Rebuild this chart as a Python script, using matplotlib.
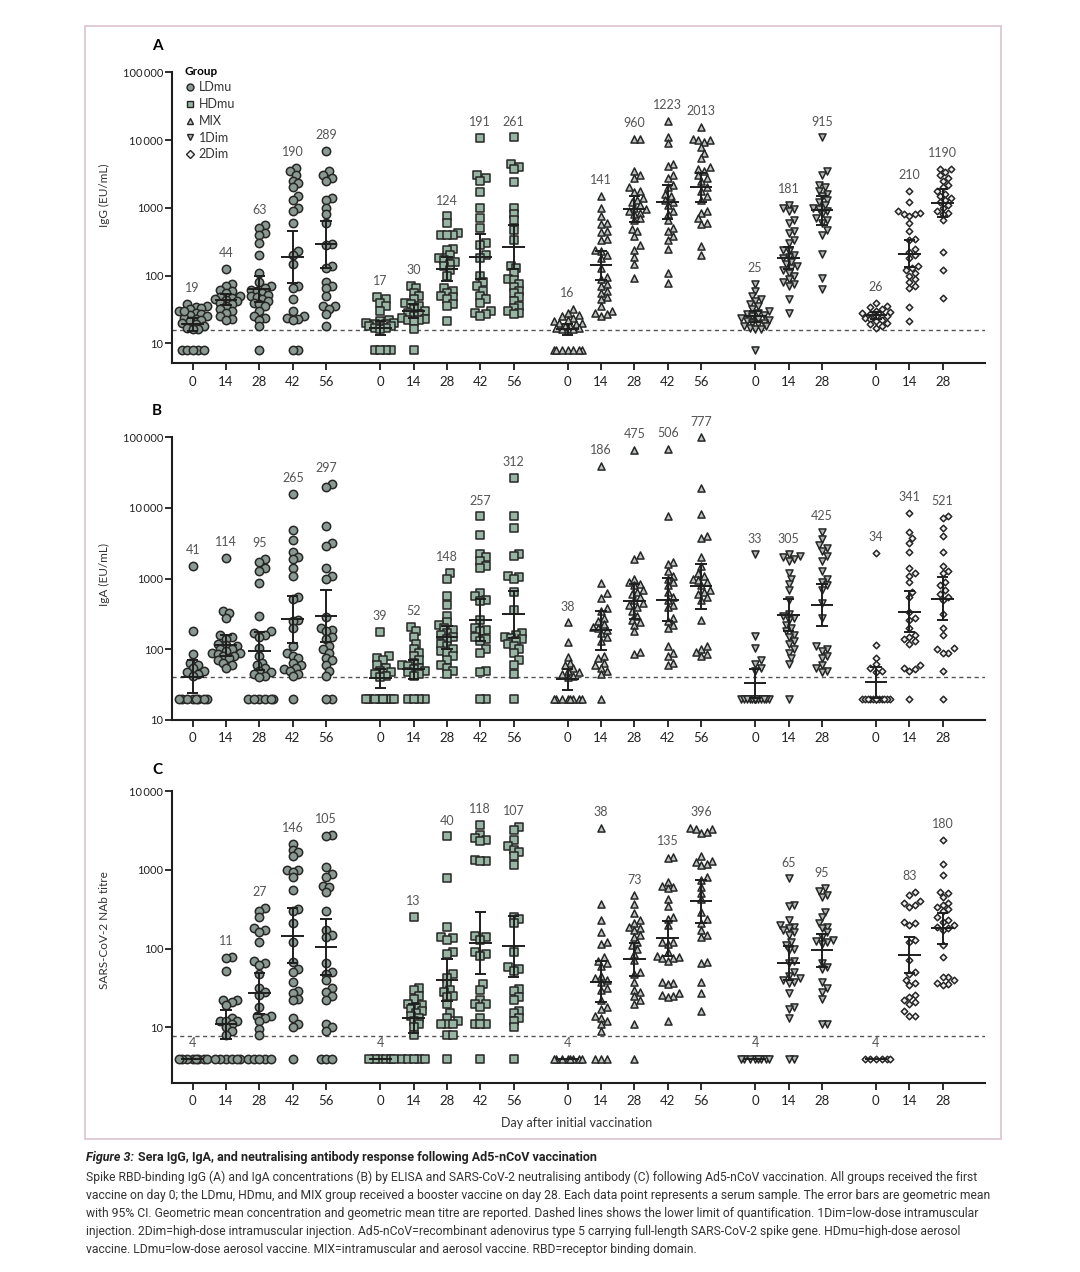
import numpy as np
import matplotlib
matplotlib.use("Agg")
import matplotlib.pyplot as plt
from matplotlib.lines import Line2D
from matplotlib.patches import Rectangle

plt.rcParams['font.family'] = ['Lato', 'DejaVu Sans']

# ---------------- data ----------------
groups = ['LDmu', 'HDmu', 'MIX', '1Dim', '2Dim']
days_long = ['0', '14', '28', '42', '56']
days_short = ['0', '14', '28']

# Panel A: IgG (EU/mL)
igg_ldmu = [
    [38, 35, 34, 33, 32, 30, 28, 27, 26, 25, 24, 23, 22, 21, 20, 19, 18, 17, 16, 16, 30, 8, 8, 8, 8, 8],
    [125, 75, 70, 62, 60, 55, 50, 48, 46, 45, 44, 42, 40, 38, 35, 32, 30, 28, 25, 23, 22],
    [550, 500, 420, 400, 300, 200, 110, 80, 70, 65, 62, 60, 55, 52, 50, 48, 45, 42, 40, 38, 35, 30, 25, 24, 22, 18, 8],
    [3900, 3500, 3000, 2500, 2300, 2000, 1500, 1300, 1000, 900, 600, 230, 200, 150, 70, 65, 45, 30, 25, 24, 23, 22, 8, 8],
    [7000, 3500, 3000, 2800, 2500, 1400, 1300, 1000, 800, 600, 290, 280, 140, 130, 80, 70, 65, 50, 36, 35, 32, 27, 18],
]
igg_hdmu = [
    [48, 45, 40, 35, 30, 22, 21, 20, 20, 19, 19, 18, 18, 18, 17, 17, 16, 8, 8, 8, 8],
    [70, 65, 55, 50, 45, 40, 38, 35, 32, 30, 28, 27, 25, 24, 23, 22, 22, 21, 16, 8],
    [750, 600, 420, 400, 400, 400, 250, 240, 200, 180, 170, 160, 150, 140, 120, 100, 65, 60, 55, 50, 48, 45, 38, 36, 21],
    [10700, 3000, 2800, 2500, 1700, 1000, 700, 500, 300, 280, 200, 180, 100, 80, 70, 60, 50, 45, 40, 30, 28, 27, 25],
    [11000, 4500, 4000, 3800, 2400, 980, 800, 650, 465, 330, 140, 130, 108, 90, 85, 75, 68, 60, 55, 48, 42, 36, 33, 30, 28, 27],
]
igg_mix = [
    [32, 28, 26, 25, 24, 22, 21, 20, 20, 19, 18, 18, 17, 17, 16, 16, 16, 8, 8, 8, 8, 8, 8, 8],
    [1500, 1000, 750, 600, 580, 450, 440, 350, 340, 240, 230, 200, 180, 130, 95, 90, 75, 70, 60, 55, 48, 45, 36, 30, 28, 27, 25],
    [10500, 10500, 3500, 3000, 2800, 2000, 1800, 1700, 1400, 1300, 1200, 1100, 1000, 950, 900, 850, 800, 700, 650, 480, 450, 380, 280, 240, 190, 150, 92],
    [19000, 11000, 9000, 4500, 4200, 3000, 2800, 2200, 2000, 1600, 1500, 1300, 1200, 1100, 900, 800, 650, 500, 450, 380, 330, 250, 110, 77],
    [15800, 10500, 10000, 10000, 9500, 8000, 6500, 5500, 4000, 3800, 3500, 3000, 2800, 2500, 2000, 1800, 1500, 1300, 900, 850, 700, 600, 580, 270, 200],
]
igg_1dim = [
    [75, 60, 50, 45, 42, 38, 35, 32, 30, 28, 27, 26, 25, 24, 23, 22, 21, 20, 20, 19, 18, 18, 17, 16, 16, 8],
    [1100, 1000, 950, 900, 650, 600, 450, 420, 330, 300, 240, 230, 200, 190, 180, 160, 150, 140, 130, 120, 110, 100, 90, 80, 75, 70, 45, 28],
    [11000, 3500, 3000, 2200, 2000, 1800, 1600, 1500, 1300, 1200, 1100, 1000, 950, 900, 800, 700, 650, 600, 470, 400, 210, 92, 63],
]
igg_2dim = [
    [40, 36, 34, 32, 30, 29, 28, 27, 26, 25, 25, 24, 23, 22, 21, 20, 19, 18, 17],
    [1800, 1200, 900, 850, 800, 800, 750, 600, 450, 350, 330, 250, 220, 200, 180, 140, 130, 120, 110, 100, 90, 80, 70, 65, 34, 21],
    [3800, 3700, 3400, 3000, 2800, 2500, 2200, 2000, 1800, 1600, 1500, 1400, 1300, 1200, 1100, 1000, 900, 850, 800, 650, 220, 120, 46],
]
igg_gm = [[19, 44, 63, 190, 289], [17, 30, 124, 191, 261], [16, 141, 960, 1223, 2013], [25, 181, 915], [26, 210, 1190]]

# Panel B: IgA (EU/mL)
iga_ldmu = [
    [1500, 180, 85, 65, 60, 55, 50, 48, 45, 42, 20, 20, 20, 20, 20, 20, 20, 20],
    [1950, 350, 330, 280, 160, 150, 140, 120, 115, 110, 100, 100, 95, 90, 90, 85, 80, 80, 75, 70, 65, 60, 55],
    [1900, 1700, 1400, 1300, 870, 300, 180, 170, 160, 150, 105, 80, 65, 60, 55, 50, 48, 45, 42, 40, 20, 20, 20, 20, 20, 20],
    [16000, 4900, 3500, 2400, 2000, 1900, 1400, 1100, 550, 520, 260, 250, 200, 110, 90, 80, 75, 65, 60, 55, 52, 50, 45, 42, 20],
    [22000, 20000, 5600, 3200, 2900, 1400, 1100, 1000, 290, 200, 190, 180, 150, 140, 110, 100, 90, 75, 70, 60, 50, 42, 20, 20],
]
iga_hdmu = [
    [175, 80, 75, 70, 60, 55, 50, 48, 45, 42, 40, 20, 20, 20, 20, 20, 20, 20, 20],
    [210, 180, 150, 120, 100, 90, 80, 70, 65, 60, 58, 55, 52, 50, 48, 45, 42, 20, 20, 20, 20],
    [1200, 1000, 560, 420, 300, 240, 220, 200, 190, 170, 160, 150, 140, 120, 110, 100, 95, 90, 80, 70, 60, 55, 50, 45],
    [7600, 4200, 2200, 2000, 1800, 1500, 1400, 620, 560, 500, 480, 260, 200, 190, 180, 150, 140, 130, 100, 90, 50, 48, 20, 20],
    [26500, 7600, 5200, 2200, 2100, 1100, 1050, 1000, 650, 360, 170, 160, 150, 145, 140, 130, 120, 110, 100, 90, 70, 60, 45, 20],
]
iga_mix = [
    [240, 125, 78, 65, 60, 55, 50, 48, 45, 42, 40, 20, 20, 20, 20, 20, 20, 20, 20],
    [39000, 870, 620, 540, 380, 350, 280, 250, 230, 210, 200, 190, 170, 150, 130, 80, 75, 65, 60, 55, 50, 45, 20],
    [66000, 2150, 1900, 1000, 900, 850, 800, 700, 650, 600, 550, 500, 450, 420, 400, 350, 300, 260, 240, 220, 180, 92, 85],
    [69000, 7600, 1700, 1600, 1300, 1100, 1000, 900, 800, 650, 550, 500, 420, 400, 280, 250, 220, 200, 110, 90, 80, 65, 60],
    [100000, 19000, 8300, 4000, 3800, 2000, 1500, 1200, 1100, 1000, 950, 900, 800, 700, 650, 600, 550, 500, 260, 110, 100, 92, 85, 80],
]
iga_1dim = [
    [2200, 155, 105, 70, 62, 55, 50, 20, 20, 20, 20, 20, 20, 20, 20, 20, 20, 20, 20, 20, 20, 20, 20],
    [2200, 2100, 2000, 1900, 1800, 1200, 1000, 850, 700, 500, 320, 300, 280, 260, 220, 200, 180, 160, 150, 130, 120, 100, 90, 75, 63, 20],
    [4600, 3600, 3000, 2700, 2500, 2100, 1800, 1300, 1000, 900, 800, 700, 450, 280, 110, 100, 95, 80, 75, 60, 55, 50, 48],
]
iga_2dim = [
    [2300, 115, 75, 62, 55, 50, 48, 20, 20, 20, 20, 20, 20, 20, 20, 20, 20, 20, 20, 20, 20],
    [8600, 4500, 3800, 3200, 2400, 1400, 1200, 1100, 900, 650, 550, 340, 280, 260, 200, 160, 150, 140, 130, 120, 60, 55, 52, 50, 20],
    [7600, 7200, 5200, 4000, 2400, 1500, 1300, 1200, 900, 800, 700, 600, 550, 500, 320, 200, 160, 105, 100, 90, 88, 50, 20],
]
iga_gm = [[41, 114, 95, 265, 297], [39, 52, 148, 257, 312], [38, 186, 475, 506, 777], [33, 305, 425], [34, 341, 521]]

# Panel C: SARS-CoV-2 neutralising antibody titre
nab_ldmu = [
    [4, 4, 4, 4, 4, 4, 4, 4],
    [78, 75, 52, 22, 22, 21, 19, 13, 12, 12, 12, 11, 10, 9, 8, 4, 4, 4, 4, 4, 4],
    [330, 300, 250, 180, 170, 160, 120, 70, 65, 62, 48, 32, 28, 26, 18, 14, 14, 13, 12, 9.5, 8, 4, 4, 4, 4, 4],
    [2150, 1800, 1700, 1500, 1000, 1000, 950, 800, 550, 320, 300, 210, 120, 67, 55, 50, 38, 29, 27, 23, 22, 13, 11, 10, 4],
    [2800, 2700, 1100, 880, 820, 620, 600, 520, 300, 170, 150, 140, 65, 50, 48, 40, 32, 28, 25, 22, 11, 10, 9, 4, 4, 4],
]
nab_hdmu = [
    [4, 4, 4, 4, 4, 4],
    [250, 32, 30, 25, 23, 20, 19, 18, 17, 16, 15, 14, 13, 12, 11, 10, 8, 4, 4, 4, 4, 4],
    [2650, 790, 190, 140, 135, 130, 90, 85, 48, 42, 35, 30, 28, 25, 24, 20, 15, 13, 12, 11, 11, 11, 8, 8, 4],
    [3700, 2800, 2500, 2400, 2300, 1350, 1300, 1300, 145, 140, 130, 90, 85, 80, 35, 30, 22, 20, 20, 18, 13, 11, 11, 11, 4],
    [3500, 3200, 2400, 2000, 1800, 1700, 1500, 1150, 250, 240, 210, 90, 58, 55, 52, 31, 29, 24, 22, 16, 15, 13, 12, 10, 4],
]
nab_mix = [
    [4, 4, 4, 4, 4, 4, 4, 4],
    [3400, 370, 233, 163, 120, 115, 78, 70, 65, 60, 45, 42, 40, 38, 32, 30, 22, 18, 17, 14, 13, 12, 11, 9, 4, 4, 4],
    [475, 370, 285, 230, 210, 190, 180, 170, 150, 140, 120, 110, 100, 86, 71, 50, 48, 38, 30, 28, 25, 22, 20, 11, 4],
    [1450, 1400, 700, 620, 600, 580, 430, 350, 250, 240, 200, 120, 120, 115, 90, 80, 78, 76, 75, 70, 38, 37, 35, 27, 26, 25, 24, 12],
    [3400, 3300, 3300, 3000, 2900, 1500, 1300, 1250, 1200, 1150, 800, 750, 600, 500, 420, 290, 240, 210, 170, 150, 140, 67, 65, 38, 27, 16],
]
nab_1dim = [
    [4, 4, 4, 4, 4, 4, 4, 4],
    [780, 360, 350, 230, 200, 190, 180, 170, 160, 150, 120, 110, 100, 95, 70, 65, 50, 45, 42, 40, 38, 36, 27, 18, 17, 13, 4, 4],
    [580, 530, 480, 450, 290, 250, 210, 190, 180, 160, 140, 130, 125, 120, 115, 65, 58, 55, 38, 32, 28, 23, 11, 11],
]
nab_2dim = [
    [4, 4, 4, 4, 4, 4],
    [520, 480, 400, 380, 360, 340, 220, 210, 200, 130, 120, 71, 50, 48, 40, 36, 34, 26, 24, 22, 21, 20, 16, 14, 14],
    [2400, 1200, 850, 520, 500, 450, 380, 360, 340, 320, 300, 250, 230, 220, 200, 190, 180, 170, 110, 78, 44, 43, 40, 36, 35, 34],
]
nab_gm = [[4, 11, 27, 146, 105], [4, 13, 40, 118, 107], [4, 38, 73, 135, 396], [4, 65, 95], [4, 83, 180]]

lloq = [15.6, 40.5, 7.7]

# ---------------- styling ----------------
group_start = [0, 5.62, 11.24, 16.86, 20.48]
styles = {
    'LDmu': dict(marker='o', s=36, fc='#8a9991'),
    'HDmu': dict(marker='s', s=30, fc='#98b4a3'),
    'MIX':  dict(marker='^', s=26, fc='#bcc4be'),
    '1Dim': dict(marker='v', s=26, fc='#b0b9b3'),
    '2Dim': dict(marker='D', s=11, fc='#eef1ef'),
}
EDGE = '#262626'


def swarm_x(ax, xc, vals, d=5.6, maxw=15.0):
    vals = np.asarray(vals, float)
    pix = ax.transData.transform(np.column_stack([np.full(len(vals), xc), vals]))
    x0 = pix[0, 0]
    ys = pix[:, 1]
    cands = [0.0]
    k = 1
    while k * d / 2 <= maxw:
        cands += [k * d / 2, -k * d / 2]
        k += 1
    offs = np.zeros(len(vals))
    px, py = [], []
    for i in np.argsort(ys):
        best, score = 0.0, -1.0
        for c in cands:
            dist = np.min(np.hypot(np.array(px) - c, np.array(py) - ys[i])) if px else np.inf
            if dist >= d:
                best = c
                break
            if dist > score:
                score, best = dist, c
        offs[i] = best
        px.append(best)
        py.append(ys[i])
    return ax.transData.inverted().transform(np.column_stack([x0 + offs, ys]))[:, 0]


def ytick_fmt(v):
    s = '{:d}'.format(int(v))
    if v >= 10000:
        s = s[:-3] + '\u2009' + s[-3:]
    return s


fig = plt.figure(figsize=(10.8, 12.72), dpi=100)
H = 1272.0
W = 1080.0


def make_axes(top_px, bot_px, ylim, yticks):
    ax = fig.add_axes([171.7 / W, 1 - bot_px / H, (985 - 171.7) / W, (bot_px - top_px) / H])
    ax.set_yscale('log')
    ax.set_ylim(*ylim)
    ax.set_xlim(-0.63, 23.75)
    ax.set_yticks(yticks)
    ax.set_yticklabels([ytick_fmt(v) for v in yticks], fontsize=8, color='#222')
    ax.yaxis.set_minor_locator(matplotlib.ticker.NullLocator())
    for sp in ['top', 'right']:
        ax.spines[sp].set_visible(False)
    for sp in ['left', 'bottom']:
        ax.spines[sp].set_linewidth(1.5)
        ax.spines[sp].set_color('#1e1e1e')
    ax.tick_params(axis='both', direction='out', length=5, width=1.3, color='#1e1e1e')
    ax.tick_params(axis='y', pad=1)
    ax.tick_params(axis='x', labelsize=9.5, labelcolor='#222', pad=4)
    xt, xl = [], []
    for g, st in enumerate(group_start):
        dl = days_long if g < 3 else days_short
        for j, lab in enumerate(dl):
            xt.append(st + j)
            xl.append(lab)
    ax.set_xticks(xt)
    ax.set_xticklabels(xl)
    return ax


def draw_panel(ax, data, gms, lloq_val):
    ax.axhline(lloq_val, color='#555555', lw=1.0, ls=(0, (3, 2.5)), zorder=1)
    for g, name in enumerate(groups):
        st = styles[name]
        for j, vals in enumerate(data[g]):
            xc = group_start[g] + j
            xs = swarm_x(ax, xc, vals)
            ax.scatter(xs, vals, marker=st['marker'], s=st['s'], facecolor=st['fc'],
                       edgecolor=EDGE, linewidth=1.1, zorder=3, clip_on=False)
            gm = gms[g][j]
            lv = np.log10(np.asarray(vals, float))
            se = lv.std(ddof=1) / np.sqrt(len(lv))
            lo, hi = gm / 10 ** (2.06 * se), gm * 10 ** (2.06 * se)
            ax.hlines(gm, xc - 0.34, xc + 0.34, color='#1e1e1e', lw=1.4, zorder=4)
            if hi / lo > 1.01:
                ax.vlines(xc, lo, hi, color='#1e1e1e', lw=1.4, zorder=4)
                ax.hlines([lo, hi], xc - 0.17, xc + 0.17, color='#1e1e1e', lw=1.4, zorder=4)
            ax.annotate(str(gm), (xc, max(vals)), xytext=(0, 7), textcoords='offset points',
                        ha='center', va='bottom', fontsize=9, color='#555555', zorder=5)


axA = make_axes(72.3, 363.3, (5.07, 1e5), [10, 100, 1000, 10000, 100000])
axB = make_axes(437.3, 720.0, (10, 1e5), [10, 100, 1000, 10000, 100000])
axC = make_axes(791.0, 1082.7, (1.98, 1e4), [10, 100, 1000, 10000])

draw_panel(axA, [igg_ldmu, igg_hdmu, igg_mix, igg_1dim, igg_2dim], igg_gm, lloq[0])
draw_panel(axB, [iga_ldmu, iga_hdmu, iga_mix, iga_1dim, iga_2dim], iga_gm, lloq[1])
draw_panel(axC, [nab_ldmu, nab_hdmu, nab_mix, nab_1dim, nab_2dim], nab_gm, lloq[2])

# legend
handles = [Line2D([], [], ls='none', marker=styles[n]['marker'],
                  markersize=5.0 if n != '2Dim' else 3.8,
                  markerfacecolor=styles[n]['fc'], markeredgecolor=EDGE,
                  markeredgewidth=1.0, label=n) for n in groups]
leg = axA.legend(handles=handles, title='Group', loc='upper left', bbox_to_anchor=(0.01, 1.04),
                 frameon=False, fontsize=9, title_fontsize=8.5, labelspacing=0.38,
                 handletextpad=0.3, handlelength=0.8, borderaxespad=0, alignment='left')
leg.get_title().set_fontweight('bold')
for t in leg.get_texts():
    t.set_color('#333333')

# panel letters and axis labels
for letter, ypx in [('A', 46), ('B', 411), ('C', 770)]:
    fig.text(157 / W, 1 - ypx / H, letter, fontsize=11, fontweight='bold', ha='center', va='center')
for lab, ypx in [('IgG (EU/mL)', 195), ('IgA (EU/mL)', 575), ('SARS-CoV-2 NAb titre', 930)]:
    fig.text(104 / W, 1 - ypx / H, lab, rotation=90, fontsize=8.5, ha='center', va='center', color='#333333')
fig.text(577 / W, 1 - 1123 / H, 'Day after initial vaccination', fontsize=9, ha='center', va='center',
         color='#333333')

# frame around figure area
fig.patches.append(Rectangle((84.5 / W, 1 - 1139 / H), (1001 - 84.5) / W, (1139 - 25.5) / H,
                             transform=fig.transFigure, fill=False, edgecolor='#dcc4cf', lw=1.2))

# caption
cap_font = ['Roboto', 'DejaVu Sans']
t1 = fig.text(86 / W, 1 - 1158 / H, 'Figure 3:', fontsize=9, fontweight='bold', fontstyle='italic',
              family=cap_font, ha='left', va='center', color='#222222')
r = fig.canvas.get_renderer()
bb = t1.get_window_extent(renderer=r)
fig.text((bb.x1 + 4) / W, 1 - 1158 / H,
         'Sera IgG, IgA, and neutralising antibody response following Ad5-nCoV vaccination',
         fontsize=9, fontweight='bold', family=cap_font, ha='left', va='center', color='#222222')
caption = [
    'Spike RBD-binding IgG (A) and IgA concentrations (B) by ELISA and SARS-CoV-2 neutralising antibody (C) following Ad5-nCoV vaccination. All groups received the first',
    'vaccine on day 0; the LDmu, HDmu, and MIX group received a booster vaccine on day 28. Each data point represents a serum sample. The error bars are geometric mean',
    'with 95% CI. Geometric mean concentration and geometric mean titre are reported. Dashed lines shows the lower limit of quantification. 1Dim=low-dose intramuscular',
    'injection. 2Dim=high-dose intramuscular injection. Ad5-nCoV=recombinant adenovirus type 5 carrying full-length SARS-CoV-2 spike gene. HDmu=high-dose aerosol',
    'vaccine. LDmu=low-dose aerosol vaccine. MIX=intramuscular and aerosol vaccine. RBD=receptor binding domain.',
]
for i, line in enumerate(caption):
    fig.text(86 / W, 1 - (1177 + 18 * i) / H, line, fontsize=8.7, family=cap_font,
             ha='left', va='center', color='#333333')

fig.savefig('out.png', dpi=100)
